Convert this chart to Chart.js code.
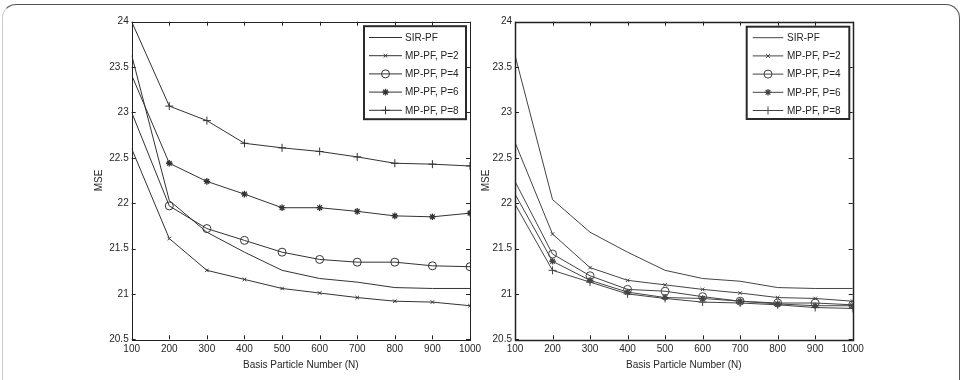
<!DOCTYPE html>
<html><head><meta charset="utf-8">
<script src="https://cdn.jsdelivr.net/npm/chart.js@4.4.1/dist/chart.umd.min.js"></script>
<style>
html,body{margin:0;padding:0;background:#fff;width:963px;height:380px;overflow:hidden;}
#frame{position:absolute;left:2px;top:4px;width:958px;height:430px;border-top:1px solid #555;border-right:1px solid #555;border-left:1px solid #ccc;border-radius:14px;box-sizing:border-box;}
canvas{position:absolute;top:0;}
</style></head><body>
<div id="frame"></div>
<canvas id="c1" width="490" height="380" style="left:0px"></canvas>
<canvas id="c2" width="483" height="380" style="left:480px"></canvas>
<script>
// ---- data ----
const particleNumbers = [100, 200, 300, 400, 500, 600, 700, 800, 900, 1000];
const xTickLabels = ['100','200','300','400','500','600','700','800','900','1000'];
const yTickLabels = ['20.5','21','21.5','22','22.5','23','23.5','24'];
const seriesNames = ['SIR-PF', 'MP-PF, P=2', 'MP-PF, P=4', 'MP-PF, P=6', 'MP-PF, P=8'];

const leftSIR = [23.63, 22.03, 21.68, 21.46, 21.26, 21.17, 21.13, 21.07, 21.06, 21.06];
const leftP2  = [22.60, 21.61, 21.26, 21.16, 21.06, 21.01, 20.96, 20.92, 20.91, 20.87];
const leftP4  = [23.00, 21.97, 21.72, 21.59, 21.46, 21.38, 21.35, 21.35, 21.31, 21.30];
const leftP6  = [23.41, 22.44, 22.24, 22.10, 21.95, 21.95, 21.91, 21.86, 21.85, 21.89];
const leftP8  = [24.00, 23.07, 22.91, 22.66, 22.61, 22.57, 22.51, 22.44, 22.43, 22.41];

const rightSIR = [23.63, 22.04, 21.68, 21.46, 21.26, 21.17, 21.14, 21.07, 21.06, 21.06];
const rightP2  = [22.67, 21.66, 21.29, 21.15, 21.10, 21.05, 21.01, 20.96, 20.95, 20.92];
const rightP4  = [22.24, 21.44, 21.20, 21.05, 21.03, 20.97, 20.92, 20.90, 20.90, 20.88];
const rightP6  = [22.10, 21.36, 21.15, 21.02, 20.96, 20.95, 20.92, 20.89, 20.87, 20.87];
const rightP8  = [21.99, 21.26, 21.13, 21.00, 20.95, 20.91, 20.90, 20.88, 20.85, 20.84];

// ---- styling ----
const TEXT = '#262626';
const FONT = 'Liberation Sans, Arial, sans-serif';
const markers = [
  {pointStyle: 'circle', radius: 0, bw: 1},
  {pointStyle: 'crossRot', radius: 2.5, bw: 1},
  {pointStyle: 'circle', radius: 4, bw: 1},
  {pointStyle: 'star', radius: 3.3, bw: 1.3},
  {pointStyle: 'cross', radius: 4, bw: 1}
];

function makeDatasets(arrs, lineColor) {
  return arrs.map((arr, i) => ({
    label: seriesNames[i],
    data: particleNumbers.map((n, j) => ({x: n, y: arr[j]})),
    borderColor: lineColor,
    borderWidth: 1,
    backgroundColor: 'transparent',
    pointStyle: markers[i].pointStyle,
    pointRadius: particleNumbers.map((n, j) => j === 0 ? 0 : markers[i].radius),
    pointHoverRadius: 0,
    pointBorderColor: lineColor,
    pointBorderWidth: markers[i].bw,
    pointBackgroundColor: 'rgba(0,0,0,0)',
    tension: 0,
    fill: false,
    clip: 0
  }));
}

const boxTicksPlugin = {
  id: 'boxTicks',
  afterDatasetsDraw(chart) {
    const {ctx, chartArea: a, scales} = chart;
    ctx.save();
    ctx.strokeStyle = '#222';
    ctx.lineWidth = 1;
    const L = 4;
    ctx.beginPath();
    scales.x.ticks.forEach(t => {
      const x = Math.round(scales.x.getPixelForValue(t.value)) + 0.5;
      ctx.moveTo(x, a.bottom); ctx.lineTo(x, a.bottom - L);
      ctx.moveTo(x, a.top); ctx.lineTo(x, a.top + L);
    });
    scales.y.ticks.forEach(t => {
      const y = Math.round(scales.y.getPixelForValue(t.value)) + 0.5;
      ctx.moveTo(a.left, y); ctx.lineTo(a.left + L, y);
      ctx.moveTo(a.right, y); ctx.lineTo(a.right - L, y);
    });
    ctx.stroke();
    ctx.lineWidth = chart.options.plugins.boxTicks.boxWidth || 1;
    ctx.strokeRect(Math.round(a.left) + 0.5, Math.round(a.top) + 0.5, Math.round(a.right - a.left), Math.round(a.bottom - a.top));
    ctx.restore();
  }
};

const legendBoxPlugin = {
  id: 'legendBox',
  afterDraw(chart) {
    const o = chart.options.plugins.legendBox;
    const {ctx, chartArea: a} = chart;
    ctx.save();
    const bx = a.right - o.gapRight - o.width, by = a.top + o.gapTop;
    ctx.fillStyle = '#fff';
    ctx.fillRect(bx, by, o.width, o.height);
    ctx.strokeStyle = '#2a2a2a';
    ctx.lineWidth = 2;
    ctx.strokeRect(bx, by, o.width, o.height);
    ctx.font = '10px ' + FONT;
    ctx.textBaseline = 'middle';
    chart.data.datasets.forEach((ds, i) => {
      const y = by + o.firstRow + i * o.rowStep;
      const x1 = bx + o.lineStart, x2 = x1 + o.lineLen;
      ctx.strokeStyle = ds.borderColor; ctx.lineWidth = 1;
      ctx.beginPath(); ctx.moveTo(x1, y); ctx.lineTo(x2, y); ctx.stroke();
      if (markers[i].radius > 0) {
        ctx.strokeStyle = ds.borderColor; ctx.fillStyle = 'rgba(0,0,0,0)';
        ctx.lineWidth = ds.pointBorderWidth;
        Chart.helpers.drawPoint(ctx, {pointStyle: ds.pointStyle, radius: markers[i].radius, rotation: 0, borderWidth: ds.pointBorderWidth}, (x1 + x2) / 2, y);
      }
      ctx.fillStyle = TEXT;
      ctx.fillText(ds.label, x2 + o.textGap, y + 0.5);
    });
    ctx.restore();
  }
};

function makeChart(id, arrs, cfg) {
  return new Chart(document.getElementById(id), {
    type: 'line',
    data: {datasets: makeDatasets(arrs, cfg.lineColor)},
    plugins: [boxTicksPlugin, legendBoxPlugin],
    options: {
      responsive: false,
      animation: false,
      devicePixelRatio: 1,
      layout: {padding: {left: cfg.padLeft, right: cfg.padRight, top: 21.7, bottom: 0}},
      plugins: {
        legend: {display: false},
        tooltip: {enabled: false},
        boxTicks: {boxWidth: cfg.boxWidth},
        legendBox: cfg.legend
      },
      scales: {
        x: {
          type: 'linear', min: 100, max: 1000,
          grid: {display: false, drawTicks: false},
          border: {display: false},
          ticks: {stepSize: 100, padding: 4, color: TEXT, font: {family: FONT, size: 10},
                  maxRotation: 0, autoSkip: false,
                  callback: (v, i) => xTickLabels[i]},
          title: {display: true, text: 'Basis Particle Number (N)', color: TEXT,
                  font: {family: FONT, size: 10}, padding: {top: 0, bottom: 9}},
          afterFit: s => { s.height = 40.7; }
        },
        y: {
          type: 'linear', min: 20.5, max: 24,
          grid: {display: false, drawTicks: false},
          border: {display: false},
          ticks: {stepSize: 0.5, padding: 3, color: TEXT, font: {family: FONT, size: 10},
                  callback: (v, i) => yTickLabels[i]},
          title: {display: true, text: 'MSE', color: TEXT,
                  font: {family: FONT, size: 10}, padding: {top: 0, bottom: 0}},
          afterFit: s => { s.width = cfg.yWidth; }
        }
      }
    }
  });
}

makeChart('c1', [leftSIR, leftP2, leftP4, leftP6, leftP8], {
  padLeft: 93, padRight: 20, yWidth: 38.7, boxWidth: 1, lineColor: '#333333',
  legend: {gapRight: 4, gapTop: 4.5, width: 102, height: 93, firstRow: 11.3, rowStep: 18.2, lineStart: 5, lineLen: 33, textGap: 3}
});
makeChart('c2', [rightSIR, rightP2, rightP4, rightP6, rightP8], {
  padLeft: 0, padRight: 110.3, yWidth: 35, boxWidth: 1.5, lineColor: '#444444',
  legend: {gapRight: 3.4, gapTop: 5, width: 102.6, height: 92.3, firstRow: 11, rowStep: 18.2, lineStart: 6, lineLen: 30.6, textGap: 3.7}
});
</script>
</body></html>
